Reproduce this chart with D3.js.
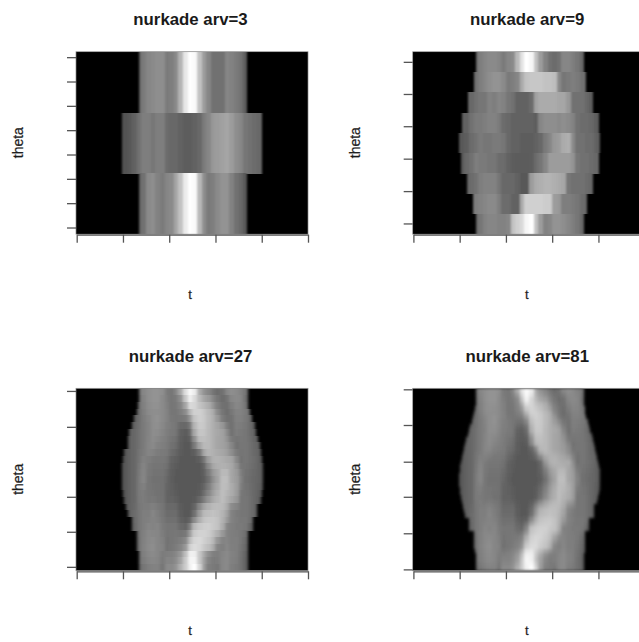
<!DOCTYPE html>
<html>
<head>
<meta charset="utf-8">
<script src="https://cdn.jsdelivr.net/npm/d3@7"></script>
<style>
body { margin: 0; background: #fff; overflow: hidden; }
text { font-family: "Liberation Sans", Arial, sans-serif; fill: #1a1a1a; }
</style>
</head>
<body>
<div id="chart"></div>
<script>
const titles = ['nurkade arv=3', 'nurkade arv=9', 'nurkade arv=27', 'nurkade arv=81']

const tTicks = [-1, -0.6, -0.2, 0.2, 0.6, 1]

const thetaTicks3 = [6.6, 30.6, 54.6, 78.6, 102.6, 126.6, 150.6, 174.6]
const thetaTicks9 = [10.6, 42.5, 74.5, 106.5, 138.3, 170]
const thetaTicks27 = [3.9, 38.5, 73, 107.6, 142, 177.4]
const thetaTicks81 = [1.4, 37, 73, 107.6, 143.8, 179]

// support of the projection in every row (t), top row first
const left3 = [-.46, -.605, -.464]
const right3 = [.473, .614, .473]

const left9 = [-.458, -.481, -.53, -.582, -.602, -.588, -.539, -.487, -.458]
const right9 = [.475, .493, .548, .599, .614, .599, .548, .499, .475]

const left27 = [-.46, -.46, -.47, -.485, -.505, -.525, -.545, -.56, -.575, -.59, -.6, -.606, -.608, -.608, -.606, -.6, -.59, -.575, -.56, -.545, -.525, -.51, -.49, -.475, -.465, -.46, -.46]
const right27 = [.475, .475, .485, .5, .515, .535, .55, .565, .58, .595, .605, .61, .612, .612, .61, .605, .595, .58, .565, .55, .535, .52, .5, .485, .475, .475, .475]

const left81 = [-.46, -.46, -.46, -.46, -.465, -.473, -.483, -.495, -.508, -.52, -.532, -.543, -.553, -.563, -.573, -.582, -.59, -.596, -.6, -.602, -.603, -.602, -.6, -.596, -.59, -.582, -.573, -.563, -.553, -.541, -.528, -.515, -.503, -.492, -.482, -.473, -.467, -.463, -.46, -.46, -.46]
const right81 = [.475, .475, .475, .475, .478, .485, .493, .503, .515, .527, .538, .549, .56, .57, .58, .589, .597, .604, .609, .612, .614, .612, .609, .604, .597, .589, .58, .57, .56, .548, .535, .522, .51, .5, .49, .482, .477, .475, .475, .475, .475]

// grey level per column (t = -0.64 ... 0.64), top row first
const rows3 = [
[0,0,0,0,85,110,125,130,135,135,110,115,130,175,230,255,250,190,150,125,100,100,100,125,120,110,100,80,0,0,0,0],
[70,70,75,85,100,115,115,105,115,115,95,90,90,85,80,80,85,90,110,125,145,150,155,160,150,135,125,105,100,95,90,0],
[0,0,0,0,85,100,130,135,120,110,125,130,160,190,235,255,250,180,135,110,115,130,140,140,120,100,90,75,0,0,0,0]
]

const rows9 = [
[0,0,0,0,95,115,125,130,130,125,110,125,130,180,225,255,245,190,150,120,100,95,100,125,125,115,105,90,0,0,0,0],
[0,0,0,0,100,115,125,135,140,140,130,110,115,125,165,190,195,195,195,190,190,185,130,105,110,115,110,100,85,0,0,0],
[0,0,95,90,100,105,105,120,115,125,120,105,100,85,85,85,95,155,165,165,165,165,160,160,145,100,100,100,90,80,0,0],
[0,85,85,100,110,110,115,120,120,110,95,90,85,85,85,85,85,80,125,135,135,135,130,135,130,120,100,95,95,90,80,0],
[70,75,80,95,100,110,105,105,110,110,105,90,85,85,80,80,80,85,90,110,125,145,150,165,170,130,100,100,95,95,85,75],
[0,75,90,100,115,110,110,105,105,95,95,85,80,78,78,78,80,95,105,125,150,150,150,150,150,140,105,100,100,95,90,0],
[0,0,85,95,100,115,120,120,120,105,90,90,90,85,75,75,150,165,170,175,175,170,165,160,105,100,100,100,95,90,0,0],
[0,0,0,100,115,120,125,130,130,115,95,95,85,85,165,205,205,205,205,200,200,150,145,115,115,110,105,95,90,0,0,0],
[0,0,0,0,90,105,120,125,125,120,120,125,190,205,215,245,255,190,150,120,125,140,140,135,125,115,105,90,0,0,0,0]
]

const rows27 = [
[0,0,0,0,105,125,135,140,140,135,110,105,125,160,220,250,235,165,140,125,105,95,100,125,135,130,120,105,0,0,0,0],
[0,0,0,0,100,120,135,140,140,130,115,105,110,135,195,240,215,180,160,148,125,105,95,102,125,130,125,100,0,0,0,0],
[0,0,0,0,98,118,132,138,138,130,118,105,108,122,160,215,210,192,180,168,142,115,100,97,115,126,123,105,0,0,0,0],
[0,0,0,0,95,115,130,135,135,130,120,105,105,115,132,178,205,205,195,180,165,130,105,95,106,120,120,110,90,0,0,0],
[0,0,0,86,96,112,124,135,138,130,120,108,105,106,110,142,192,204,197,182,168,145,112,98,101,117,117,109,95,0,0,0],
[0,0,0,88,98,110,121,135,136,127,116,110,105,92,90,108,176,198,196,181,170,158,143,113,100,115,112,106,96,84,0,0],
[0,0,85,90,100,110,121,134,133,124,114,109,104,85,79,92,162,193,193,180,170,161,155,130,101,113,109,105,96,86,0,0],
[0,0,85,90,100,110,123,132,126,119,112,104,99,82,77,82,136,183,186,180,170,160,155,140,110,103,106,105,98,88,80,0],
[0,0,85,90,100,110,124,130,120,115,110,100,95,80,75,76,110,158,180,180,170,160,155,146,125,101,105,105,100,90,83,0],
[0,76,85,90,102,113,122,120,113,110,107,95,88,78,75,75,82,105,160,176,172,165,160,152,135,110,102,105,100,92,85,0],
[0,75,85,90,104,118,114,108,106,106,102,87,82,75,75,75,76,82,105,152,171,173,168,162,158,128,100,105,100,95,85,0],
[72,75,85,90,106,122,109,104,104,104,98,84,79,75,75,75,75,75,88,130,160,170,172,168,162,140,105,103,98,94,85,68],
[70,75,85,90,109,124,107,102,102,102,94,82,76,75,75,75,75,75,84,110,144,160,180,180,160,148,115,101,96,92,85,70],
[70,75,85,90,110,125,105,100,100,100,90,80,75,75,75,75,75,75,80,100,135,155,185,185,160,150,120,100,95,90,85,70],
[70,75,85,90,110,117,105,102,101,100,88,82,77,75,75,75,75,77,88,112,144,162,184,182,166,152,115,102,97,90,83,68],
[72,75,85,90,110,112,105,104,101,100,86,84,79,75,75,75,76,79,96,124,152,168,185,177,166,151,107,104,99,90,81,0],
[0,75,85,90,109,111,106,107,102,101,86,86,82,76,75,75,77,90,115,142,162,174,184,172,158,144,105,105,100,90,80,0],
[0,78,85,92,106,113,112,118,110,104,92,92,90,78,75,75,88,128,158,172,181,183,180,164,133,122,105,105,100,90,0,0],
[0,0,85,95,105,115,115,125,115,105,95,95,95,80,75,75,100,150,180,185,190,185,175,155,120,110,105,105,100,90,0,0],
[0,0,0,92,105,115,118,123,118,107,98,98,98,85,78,88,134,170,191,196,197,190,172,146,120,112,107,107,97,0,0,0],
[0,0,0,90,105,115,124,121,124,110,104,104,104,94,88,118,180,196,203,204,197,190,166,124,116,110,110,106,88,0,0,0],
[0,0,0,0,102,117,127,126,125,114,103,105,106,103,108,150,198,207,208,201,188,170,145,121,115,113,108,99,0,0,0,0],
[0,0,0,0,100,119,129,133,125,118,101,105,109,114,128,182,209,214,205,195,178,143,122,124,115,115,106,93,0,0,0,0],
[0,0,0,0,100,120,130,135,125,120,101,106,112,122,145,205,218,212,196,185,165,124,116,126,116,115,104,90,0,0,0,0],
[0,0,0,0,100,116,126,131,125,112,115,118,126,143,185,240,238,195,162,135,118,115,124,130,120,115,101,86,0,0,0,0],
[0,0,0,0,98,113,123,128,124,109,122,122,132,155,197,244,244,195,154,122,110,112,125,130,119,114,100,85,0,0,0,0],
[0,0,0,0,90,105,115,120,120,105,130,130,140,170,200,240,255,210,150,115,110,105,125,130,115,110,100,85,0,0,0,0]
]

const rows81 = [
[0,0,0,0,105,125,135,140,140,135,110,105,125,165,225,250,235,165,140,125,105,95,100,125,135,130,120,105,0,0,0,0],
[0,0,0,0,103,123,135,140,140,133,112,105,118,148,210,248,225,172,150,135,115,100,97,112,130,130,122,103,0,0,0,0],
[0,0,0,0,100,120,135,140,140,130,115,105,110,130,190,240,210,180,160,150,125,105,95,100,125,130,125,100,0,0,0,0],
[0,0,0,0,98,118,133,138,138,130,117,105,108,125,165,220,210,190,178,165,140,112,98,98,118,128,124,104,0,0,0,0],
[0,0,0,0,96,117,132,137,136,130,118,105,106,120,148,198,208,198,186,172,152,120,102,96,112,124,122,107,90,0,0,0],
[0,0,0,0,95,115,130,135,135,130,120,105,105,115,130,175,205,205,195,180,165,130,105,95,105,120,120,110,90,0,0,0],
[0,0,0,85,96,112,125,135,138,130,120,108,105,108,115,150,195,205,197,182,168,142,110,97,102,118,118,110,95,0,0,0],
[0,0,0,87,98,110,122,135,138,128,118,110,105,100,100,125,185,200,197,182,168,150,130,105,100,116,114,108,96,82,0,0],
[0,0,0,88,98,110,121,135,136,127,116,110,105,92,88,105,175,198,196,181,170,158,145,115,100,115,112,106,96,84,0,0],
[0,0,85,90,100,110,120,135,135,125,115,110,105,85,80,95,170,195,195,180,170,162,155,125,100,113,110,105,95,85,0,0],
[0,0,85,90,100,110,122,133,130,122,113,107,102,84,78,88,150,190,190,180,170,160,155,135,103,108,108,105,97,87,0,0],
[0,0,85,90,100,110,123,132,126,119,112,104,99,82,77,82,135,183,186,180,170,160,155,140,110,103,106,105,98,88,80,0],
[0,0,85,90,100,110,124,131,122,116,110,102,96,80,75,78,125,175,182,180,170,160,155,145,122,100,105,105,100,90,82,0],
[0,78,85,90,100,110,125,128,118,114,110,99,93,80,75,75,90,130,178,180,170,160,155,148,130,102,105,105,100,90,84,0],
[0,76,85,90,102,113,122,120,113,110,107,95,88,78,75,75,82,105,160,176,172,165,160,152,135,110,102,105,100,92,85,0],
[0,75,85,90,103,116,118,112,108,107,104,90,84,76,75,75,78,90,125,160,172,172,165,160,150,122,100,105,100,94,86,0],
[0,75,85,90,105,120,110,105,105,105,100,85,80,75,75,75,75,75,90,145,170,175,170,165,165,135,100,105,100,95,85,0],
[72,75,85,90,106,122,109,104,104,104,98,84,79,75,75,75,75,75,88,130,160,170,172,168,162,140,105,103,98,94,85,68],
[70,75,85,90,108,124,107,102,102,102,95,83,77,75,75,75,75,75,85,115,148,162,178,178,160,147,112,102,97,92,85,70],
[70,75,85,90,110,125,106,101,101,101,92,81,76,75,75,75,75,75,82,105,140,158,182,182,160,150,118,100,96,91,85,70],
[70,75,85,90,110,125,105,100,100,100,90,80,75,75,75,75,75,75,80,100,135,155,185,185,160,150,120,100,95,90,85,70],
[70,75,85,90,110,120,105,101,101,100,88,81,76,75,75,75,75,76,85,108,140,160,183,183,165,152,118,101,96,90,84,70],
[70,75,85,90,110,115,105,103,102,100,87,83,78,75,75,75,75,78,92,118,148,165,184,180,168,152,112,103,98,90,82,66],
[72,75,85,90,110,112,105,104,101,100,86,84,79,75,75,75,76,79,96,124,152,168,185,177,166,151,107,104,99,90,81,0],
[0,75,85,90,110,110,105,105,100,100,85,85,80,75,75,75,75,80,100,130,155,170,185,175,165,150,105,105,100,90,80,0],
[0,76,85,91,108,112,108,110,105,102,88,88,85,77,75,75,80,100,130,155,170,178,182,168,150,138,105,105,100,90,80,0],
[0,78,85,92,106,113,111,117,110,104,91,91,90,78,75,75,88,125,155,170,180,182,180,165,135,125,105,105,100,90,0,0],
[0,0,85,94,105,115,115,123,114,105,94,94,94,80,75,75,95,140,175,182,188,185,177,158,124,112,105,105,100,90,0,0],
[0,0,85,95,105,115,115,125,115,105,95,95,95,80,75,75,100,150,180,185,190,185,175,155,120,110,105,105,100,90,0,0],
[0,0,0,92,105,115,118,123,118,107,98,98,98,85,78,85,130,168,190,195,197,190,172,148,120,112,107,107,98,0,0,0],
[0,0,0,91,105,115,121,122,121,109,101,102,102,90,84,105,160,185,197,200,200,190,170,135,118,110,108,108,93,0,0,0],
[0,0,0,90,105,115,125,120,125,110,105,105,105,95,90,125,190,200,205,205,195,190,165,120,115,110,110,105,85,0,0,0],
[0,0,0,0,103,117,127,125,125,113,104,105,106,101,105,145,196,205,208,202,190,175,150,121,115,112,109,100,0,0,0,0],
[0,0,0,0,101,118,128,130,125,116,102,105,108,110,120,170,205,212,208,198,185,155,130,123,115,114,107,95,0,0,0,0],
[0,0,0,0,100,119,129,133,125,118,101,105,109,115,130,185,210,214,204,194,177,140,120,124,115,115,106,92,0,0,0,0],
[0,0,0,0,100,120,130,135,125,120,100,105,110,120,140,200,215,215,200,190,170,125,115,125,115,115,105,90,0,0,0,0],
[0,0,0,0,100,118,128,133,125,116,108,112,120,133,165,225,230,205,180,158,140,120,120,128,118,115,102,88,0,0,0,0],
[0,0,0,0,100,116,126,131,125,112,115,118,126,143,185,240,238,195,162,135,118,115,124,130,120,115,101,86,0,0,0,0],
[0,0,0,0,100,115,125,130,125,110,120,120,130,150,195,245,240,190,155,125,110,115,125,130,120,115,100,85,0,0,0,0],
[0,0,0,0,95,110,120,125,122,107,125,125,135,160,198,243,248,200,152,120,110,110,125,130,118,112,100,85,0,0,0,0],
[0,0,0,0,90,105,115,120,120,105,130,130,140,170,200,240,255,210,150,115,110,105,125,130,115,110,100,85,0,0,0,0]
]

const svg = d3.select('#chart').append('svg')
    .attr('width', 639)
    .attr('height', 642)
    .style('display', 'block')

const colWidth = 0.04
const firstT = -0.64

// image tone of the reference, low greys sit a bit higher
const grey = d3.scaleLinear()
    .domain([0, 75, 105, 135, 180, 255])
    .range(['#000', '#585858', '#767676', '#8e8e8e', '#b9b9b9', '#fff'])

function drawPanel(index, originX, originY, rows, leftEdge, rightEdge, thetaTicks, blur) {

    const width = 232, height = 182.5

    const x = d3.scaleLinear().domain([-1, 1]).range([originX + 0.7, originX + width])
    const yTheta = d3.scaleLinear().domain([0, 180]).range([originY + height, originY])
    const yRow = d3.scaleBand().domain(d3.range(rows.length)).range([originY, originY + height])

    const clipId = 'clip' + index

    svg.append('clipPath').attr('id', clipId)
        .append('rect')
        .attr('x', originX).attr('y', originY)
        .attr('width', width).attr('height', height)

    svg.append('filter')
        .attr('id', 'soft' + index)
        .attr('x', '-5%').attr('y', '-5%').attr('width', '110%').attr('height', '110%')
        .append('feGaussianBlur')
        .attr('stdDeviation', blur)

    const plot = svg.append('g').attr('clip-path', 'url(#' + clipId + ')')

    plot.append('rect')
        .attr('x', originX).attr('y', originY)
        .attr('width', width).attr('height', height)
        .attr('fill', '#000')

    const cells = plot.append('g')
        .attr('filter', 'url(#soft' + index + ')')
        .attr('shape-rendering', 'crispEdges')

    rows.forEach(function(row, i){

        cells.selectAll('cell')
            .data(row.map(function(v, j){ return {v: v, t: firstT + j * colWidth} }))
            .enter()
            .filter(function(d){ return d.v > 0 })
            .append('rect')
            .attr('x', function(d){ return x(Math.max(d.t, leftEdge[i])) })
            .attr('y', yRow(i))
            .attr('width', function(d){
                return Math.max(0, x(Math.min(d.t + colWidth, rightEdge[i])) - x(Math.max(d.t, leftEdge[i])) + 0.3)
            })
            .attr('height', yRow.bandwidth() + 0.3)
            .attr('fill', function(d){ return grey(d.v) })
    })

    svg.append('rect')
        .attr('x', originX).attr('y', originY)
        .attr('width', width).attr('height', height)
        .attr('fill', 'none')
        .attr('stroke', '#888')
        .attr('stroke-width', 0.7)

    const xAxis = svg.append('g')
        .attr('transform', 'translate(0,' + (originY + height + 0.5) + ')')
        .call(d3.axisBottom(x).tickValues(tTicks).tickFormat('').tickSize(8).tickSizeOuter(0))

    const yAxis = svg.append('g')
        .attr('transform', 'translate(' + originX + ',0)')
        .call(d3.axisLeft(yTheta).tickValues(thetaTicks).tickFormat('').tickSize(9).tickSizeOuter(0))

    xAxis.selectAll('path,line').attr('stroke', '#555').attr('stroke-width', 1.3)
    yAxis.selectAll('line').attr('stroke', '#555').attr('stroke-width', 1.3)
    yAxis.select('path').attr('stroke', 'none')

    svg.append('text')
        .attr('x', originX + 114.5)
        .attr('y', originY - 26.5)
        .attr('text-anchor', 'middle')
        .attr('font-size', 16.8)
        .attr('font-weight', 'bold')
        .text(titles[index])

    svg.append('text')
        .attr('x', originX + 114)
        .attr('y', originY + 247)
        .attr('text-anchor', 'middle')
        .attr('font-size', 13)
        .attr('stroke', '#333')
        .attr('stroke-width', 0.25)
        .text('t')

    svg.append('text')
        .attr('transform', 'translate(' + (originX - 53) + ',' + (originY + 91) + ') rotate(-90)')
        .attr('text-anchor', 'middle')
        .attr('font-size', 14)
        .attr('stroke', '#333')
        .attr('stroke-width', 0.25)
        .text('theta')
}

drawPanel(0, 76, 51.7, rows3, left3, right3, thetaTicks3, '0.8 0.3')
drawPanel(1, 412.7, 51.7, rows9, left9, right9, thetaTicks9, '1 0.5')
drawPanel(2, 76, 388.3, rows27, left27, right27, thetaTicks27, '1.6 0.6')
drawPanel(3, 412.7, 388.3, rows81, left81, right81, thetaTicks81, '1.7 1.4')
</script>
</body>
</html>
